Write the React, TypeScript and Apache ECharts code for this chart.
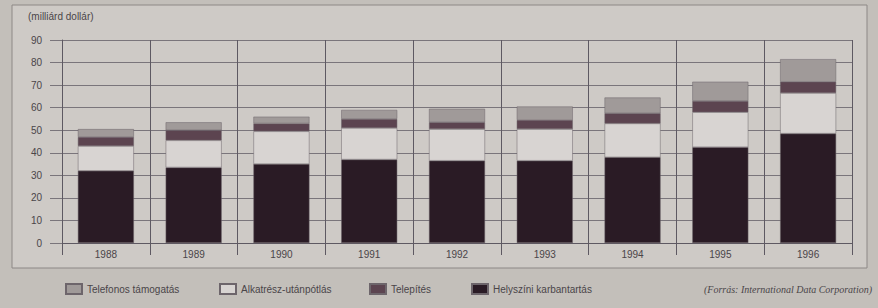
import React, { useEffect, useRef } from "react";
import * as echarts from "echarts";

const years = ["1988", "1989", "1990", "1991", "1992", "1993", "1994", "1995", "1996"];
const helyszini = [32, 33.5, 35, 37, 36.5, 36.5, 38, 42.5, 48.5];
const alkatresz = [11, 12, 14.5, 14, 14, 14, 15, 15.5, 18];
const telepites = [4, 4.5, 3.5, 4, 3, 4, 4.5, 5, 5];
const telefonos = [3.5, 3.5, 3, 4, 6, 6, 7, 8.5, 10];
const yTicks = [0, 10, 20, 30, 40, 50, 60, 70, 80, 90];

const names = ["Telefonos támogatás", "Alkatrész-utánpótlás", "Telepítés", "Helyszíni karbantartás"];
const colors = {
  telefonos: "#a09a99",
  alkatresz: "#d8d4d2",
  telepites: "#5c4450",
  helyszini: "#2a1b25",
};

export default function App() {
  const ref = useRef<HTMLDivElement>(null);
  useEffect(() => {
    document.body.style.margin = "0";
    const chart = echarts.init(ref.current!, null, { renderer: "svg" });
    const vLine = "#5e5962";
    const hLine = "#7a757b";
    const textColor = "#4a4549";
    const font = "Liberation Sans";
    const mkSeries = (name: string, data: number[], color: string) => ({
      name,
      type: "bar",
      stack: "total",
      data,
      barWidth: 56,
      itemStyle: { color, borderColor: "#6d656b", borderWidth: 0.5 },
    });
    const legendPos = [60, 214, 364, 466];
    chart.setOption({
      animation: false,
      backgroundColor: "#c3bfba",
      graphic: [
        {
          type: "rect",
          shape: { x: 12, y: 5, width: 855, height: 263 },
          style: { fill: "#cecac6", stroke: "#8d8886", lineWidth: 1 },
          z: -10,
        },
        {
          type: "text",
          x: 28,
          y: 11,
          style: { text: "(milliárd dollár)", fontSize: 10, fontFamily: font, fill: textColor },
        },
        {
          type: "text",
          x: 872,
          y: 284,
          style: {
            text: "(Forrás: International Data Corporation)",
            fontSize: 10,
            fontStyle: "italic",
            fontFamily: "Liberation Serif",
            fill: textColor,
            align: "right",
          },
        },
      ],
      legend: names.map((n, i) => ({
        data: [n],
        left: legendPos[i],
        top: 278,
        itemWidth: 16,
        itemHeight: 10,
        itemGap: 8,
        icon: "rect",
        textStyle: { fontSize: 10, fontFamily: font, color: textColor },
      })),
      grid: { left: 62, right: 26, top: 40, bottom: 65 },
      xAxis: {
        type: "category",
        data: years,
        boundaryGap: true,
        axisLine: { show: true, lineStyle: { color: vLine, width: 1 } },
        axisTick: { show: true, length: 12, lineStyle: { color: vLine } },
        splitLine: { show: true, lineStyle: { color: vLine, width: 1 } },
        axisLabel: { fontSize: 10, fontFamily: font, color: textColor, margin: 6 },
      },
      yAxis: {
        type: "value",
        min: yTicks[0],
        max: yTicks[yTicks.length - 1],
        interval: 10,
        axisLine: { show: true, lineStyle: { color: vLine, width: 1 } },
        axisTick: { show: true, length: 12, lineStyle: { color: hLine } },
        splitLine: { show: true, lineStyle: { color: hLine, width: 1 } },
        axisLabel: { fontSize: 10, fontFamily: font, color: textColor, margin: 20 },
      },
      series: [
        mkSeries(names[3], helyszini, colors.helyszini),
        mkSeries(names[1], alkatresz, colors.alkatresz),
        mkSeries(names[2], telepites, colors.telepites),
        mkSeries(names[0], telefonos, colors.telefonos),
      ],
    });
    return () => chart.dispose();
  }, []);
  return <div ref={ref} style={{ width: 878, height: 308 }} />;
}
